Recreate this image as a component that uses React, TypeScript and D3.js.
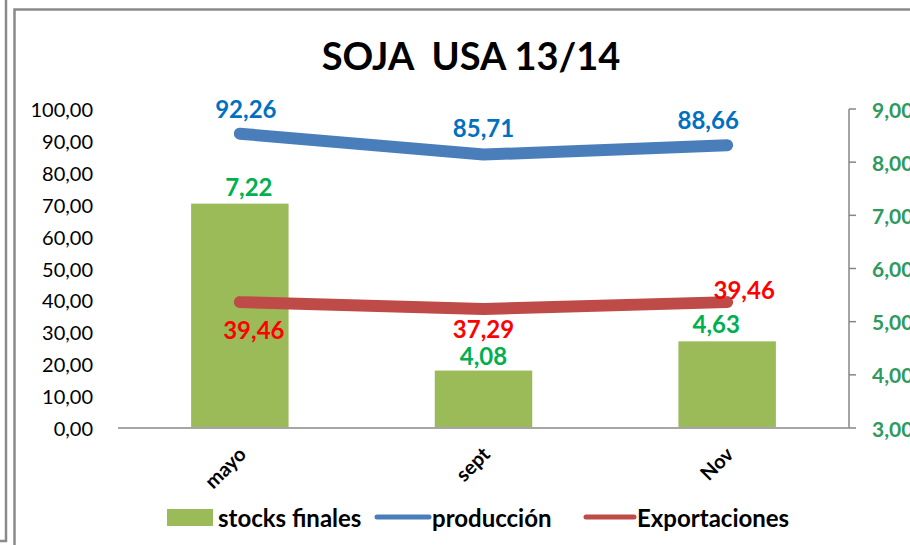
import React from "react";
import * as d3 from "d3";

const categories = ["mayo", "sept", "Nov"];
const stocksFinales = [7.22, 4.08, 4.63];
const produccion = [92.26, 85.71, 88.66];
const exportaciones = [39.46, 37.29, 39.46];
const leftTicks = [0, 10, 20, 30, 40, 50, 60, 70, 80, 90, 100];
const rightTicks = [3, 4, 5, 6, 7, 8, 9];

const W = 910;
const H = 545;
const FONT = "Lato, 'Open Sans', sans-serif";

// label offsets (layout only)
const prodLabelOff = [[6, -25], [0, -27], [-19, -26]];
const expLabelOff = [[14, 27], [0, 19], [17, -13]];
const stockLabelOff = [[9, -17], [0, -15], [-11, -18]];

const fmt = (v: number) => v.toFixed(2).replace(".", ",");

export default function App() {
  const x0 = 118, x1 = 849, yTop = 109, yBot = 428;
  const xBand = d3.scaleBand<string>().domain(categories).range([x0, x1]).paddingInner(0).paddingOuter(0);
  const yL = d3.scaleLinear().domain([0, 100]).range([yBot, yTop]);
  const yR = d3.scaleLinear().domain([3, 9]).range([yBot, yTop]);
  const cx = (c: string) => (xBand(c) as number) + xBand.bandwidth() / 2;
  const barW = xBand.bandwidth() * 0.4;

  const line = d3.line<number>().x((_, i) => cx(categories[i])).y((d) => yL(d));

  return (
    <svg width={W} height={H} style={{ position: "absolute", left: 0, top: 0 }} fontFamily={FONT}>
      <rect x={0} y={0} width={W} height={H} fill="#fff" />
      {/* frames */}
      <path d="M0,541 L6,541 L6,0" fill="none" stroke="#8a8a8a" strokeWidth={2.5} />
      <path d={`M14.5,${H} L14.5,9.5 L${W},9.5`} fill="none" stroke="#8a8a8a" strokeWidth={2.5} />

      {/* title */}
      <text x={471} y={70} textAnchor="middle" fontSize={38} fontWeight="bold" fill="#000" style={{ whiteSpace: "pre" }}>
        {"SOJA  USA 13/14"}
      </text>

      {/* left tick labels */}
      {leftTicks.map((t) => (
        <text key={t} x={93} y={yL(t)} textAnchor="end" dominantBaseline="central" fontSize={20} fill="#000">
          {fmt(t)}
        </text>
      ))}

      {/* right axis */}
      <line x1={x1} x2={x1} y1={yTop} y2={yBot} stroke="#868686" strokeWidth={1.5} />
      {rightTicks.map((t) => (
        <g key={t}>
          <line x1={x1} x2={x1 + 7} y1={yR(t)} y2={yR(t)} stroke="#868686" strokeWidth={1.5} />
          <text x={872} y={yR(t)} dominantBaseline="central" fontSize={21} fontWeight="bold" fill="#2E9A5E">
            {fmt(t)}
          </text>
        </g>
      ))}

      {/* bars */}
      {categories.map((c, i) => (
        <rect key={c} x={cx(c) - barW / 2} y={yR(stocksFinales[i])} width={barW} height={yBot - yR(stocksFinales[i])} fill="#9BBB59" />
      ))}

      {/* x axis */}
      <line x1={x0} x2={x1} y1={yBot} y2={yBot} stroke="#a6a6a6" strokeWidth={2} />

      {/* lines */}
      <path d={line(produccion) || ""} fill="none" stroke="#4A7EBB" strokeWidth={12} strokeLinecap="round" strokeLinejoin="round" />
      <path d={line(exportaciones) || ""} fill="none" stroke="#BE4B48" strokeWidth={12} strokeLinecap="round" strokeLinejoin="round" />

      {/* data labels */}
      {categories.map((c, i) => (
        <g key={c} fontSize={24} fontWeight="bold" textAnchor="middle" dominantBaseline="central">
          <text x={cx(c) + prodLabelOff[i][0]} y={yL(produccion[i]) + prodLabelOff[i][1]} fill="#0070C0">{fmt(produccion[i])}</text>
          <text x={cx(c) + expLabelOff[i][0]} y={yL(exportaciones[i]) + expLabelOff[i][1]} fill="#FF0000">{fmt(exportaciones[i])}</text>
          <text x={cx(c) + stockLabelOff[i][0]} y={yR(stocksFinales[i]) + stockLabelOff[i][1]} fill="#00B050">{fmt(stocksFinales[i])}</text>
        </g>
      ))}

      {/* x labels */}
      {categories.map((c) => (
        <text key={c} transform={`translate(${cx(c) + 2},${yBot + 22}) rotate(-45)`} textAnchor="end" dominantBaseline="central" fontSize={20} fontWeight="bold" fill="#000">
          {c}
        </text>
      ))}

      {/* legend */}
      <g fontSize={24} fontWeight="bold" fill="#000">
        <rect x={167} y={509} width={46} height={17} fill="#9BBB59" />
        <text x={218} y={517} dominantBaseline="central">stocks finales</text>
        <line x1={377} x2={429} y1={517} y2={517} stroke="#4A7EBB" strokeWidth={5} strokeLinecap="round" />
        <text x={432} y={517} dominantBaseline="central">producción</text>
        <line x1={586} x2={634} y1={517} y2={517} stroke="#BE4B48" strokeWidth={5} strokeLinecap="round" />
        <text x={637} y={517} dominantBaseline="central">Exportaciones</text>
      </g>
    </svg>
  );
}
